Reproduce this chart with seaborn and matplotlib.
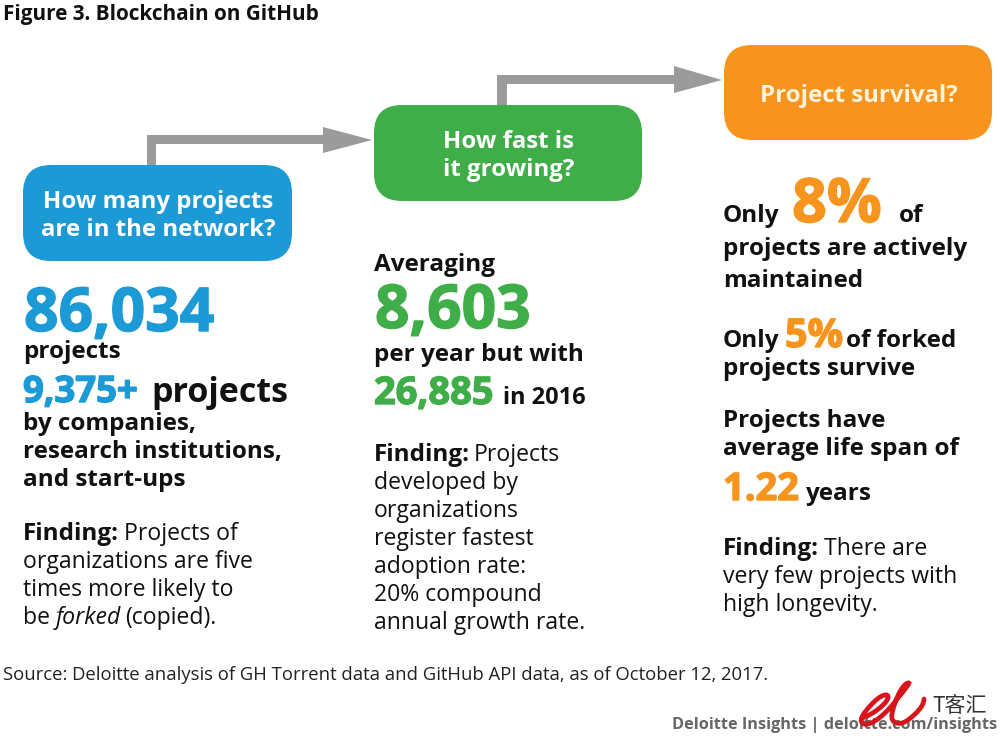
import matplotlib
matplotlib.use("Agg")
import matplotlib.pyplot as plt
from matplotlib.patches import FancyBboxPatch, Polygon, PathPatch
from matplotlib.path import Path
import matplotlib.patheffects as pe
import seaborn as sns

sns.set_theme(style="white")
plt.rcParams['font.family'] = ['Open Sans', 'DejaVu Sans']

BLUE, GREEN, ORANGE, INK = "#1b9ad6", "#3fae49", "#f7941d", "#111111"
GREY = "#9b9b9b"
B, N = 24.2, 23

title = "Figure 3. Blockchain on GitHub"
source = "Source: Deloitte analysis of GH Torrent data and GitHub API data, as of October 12, 2017."
credit = "Deloitte Insights | deloitte.com/insights"
questions = ["How many projects\nare in the network?", "How fast is\nit growing?", "Project survival?"]
q_colors = [BLUE, GREEN, ORANGE]
boxes = [(23, 165, 269, 96), (374, 105, 268, 96), (724, 45, 268, 95)]

# x, baseline y, string, size px, colour, weight, style
texts = [
    (24, 331, "86,034", 60.5, BLUE, "bold", "normal"),
    (23, 358, "projects", B, INK, "bold", "normal"),
    (23, 402, "9,375+", 36.5, BLUE, "bold", "normal"),
    (151, 402, "projects", 34, INK, "bold", "normal"),
    (23, 430, "by companies,", B, INK, "bold", "normal"),
    (23, 458, "research institutions,", B, INK, "bold", "normal"),
    (23, 486, "and start-ups", B, INK, "bold", "normal"),
    (23, 540, "Finding:", B, INK, "bold", "normal"),
    (124, 540, "Projects of", N, INK, "normal", "normal"),
    (23, 568, "organizations are five", N, INK, "normal", "normal"),
    (23, 596, "times more likely to", N, INK, "normal", "normal"),
    (23, 624, "be", N, INK, "normal", "normal"),
    (56, 624, "forked", N, INK, "normal", "italic"),
    (125, 624, "(copied).", N, INK, "normal", "normal"),
    (374, 271, "Averaging", B, INK, "bold", "normal"),
    (375, 328, "8,603", 60.5, GREEN, "bold", "normal"),
    (374, 361, "per year but with", B, INK, "bold", "normal"),
    (374, 404, "26,885", 38, GREEN, "bold", "normal"),
    (503, 404, "in 2016", 23.5, INK, "bold", "normal"),
    (374, 461, "Finding:", B, INK, "bold", "normal"),
    (474, 461, "Projects", N, INK, "normal", "normal"),
    (374, 489, "developed by", N, INK, "normal", "normal"),
    (374, 517, "organizations", N, INK, "normal", "normal"),
    (374, 545, "register fastest", N, INK, "normal", "normal"),
    (374, 573, "adoption rate:", N, INK, "normal", "normal"),
    (374, 601, "20% compound", N, INK, "normal", "normal"),
    (374, 629, "annual growth rate.", N, INK, "normal", "normal"),
    (723, 222, "Only", B, INK, "bold", "normal"),
    (792, 222, "8%", 61, ORANGE, "bold", "normal"),
    (899, 222, "of", B, INK, "bold", "normal"),
    (723, 255, "projects are actively", B, INK, "bold", "normal"),
    (723, 287, "maintained", B, INK, "bold", "normal"),
    (723, 347, "Only", B, INK, "bold", "normal"),
    (785, 347, "5%", 39.5, ORANGE, "bold", "normal"),
    (846, 347, "of forked", B, INK, "bold", "normal"),
    (723, 375, "projects survive", B, INK, "bold", "normal"),
    (723, 427, "Projects have", B, INK, "bold", "normal"),
    (723, 455, "average life span of", B, INK, "bold", "normal"),
    (723, 500, "1.22", 38, ORANGE, "bold", "normal"),
    (806, 500, "years", B, INK, "bold", "normal"),
    (723, 555, "Finding:", B, INK, "bold", "normal"),
    (824, 555, "There are", N, INK, "normal", "normal"),
    (723, 583, "very few projects with", N, INK, "normal", "normal"),
    (723, 611, "high longevity.", N, INK, "normal", "normal"),
]

PX = 72 / 100  # px to pt at dpi 100
fig = plt.figure(figsize=(10, 7.36), dpi=100, facecolor="white")
ax = fig.add_axes([0, 0, 1, 1])
ax.set_xlim(0, 1000)
ax.set_ylim(736, 0)
ax.axis("off")

# connector arrows
for pts in ([(147, 165), (147, 135), (323, 135), (323, 127), (372, 140), (323, 153), (323, 144), (156, 144), (156, 165)],
            [(497, 105), (497, 75), (674, 75), (674, 66), (722, 80), (674, 93), (674, 84), (507, 84), (507, 105)]):
    ax.add_patch(Polygon(pts, closed=True, fc=GREY, ec="none", zorder=1))

for (x, y, w, h), q, c in zip(boxes, questions, q_colors):
    r = 28
    ax.add_patch(FancyBboxPatch((x + r, y + r), w - 2 * r, h - 2 * r,
                                boxstyle=f"round,pad={r},rounding_size={r}",
                                fc=c, ec="none", zorder=2))
    ax.text(x + w / 2 + 0.5, y + h / 2 + 3, q, color="#fdf3dc" if c == ORANGE else "white",
            fontsize=24 * PX, fontweight="bold", ha="center", va="center",
            linespacing=1.24, zorder=3)

for x, y, s, size, c, w, st in texts:
    t = ax.text(x, y, s, fontsize=size * PX, color=c, fontweight=w, fontstyle=st,
                ha="left", va="baseline")
    if size > 30 and c != INK:
        t.set_path_effects([pe.withStroke(linewidth=1.0, foreground=c)])

ax.text(3, 20, title, fontsize=20.8 * PX, fontweight="bold", color="#111111", va="baseline")
ax.text(3, 680, source, fontsize=18.5 * PX, color="#222222", va="baseline")
ax.text(997, 729, credit, fontsize=16.2 * PX, fontweight="bold", color="#666666", ha="right", va="baseline")

# watermark over the credit line
logo = [(862, 718), (870, 716), (886, 705), (888, 698), (889, 692), (880, 695), (872, 704),
        (862, 714), (858, 722), (864, 724), (872, 726), (886, 714), (898, 698),
        (906, 688), (911, 682), (908, 683), (902, 684), (894, 702), (892, 714),
        (890, 724), (900, 726), (908, 720), (916, 714), (924, 706), (924, 699)]
codes = [Path.MOVETO] + [Path.CURVE4] * (len(logo) - 1)
ax.add_patch(PathPatch(Path(logo, codes), fc="none", ec="#d8141c", lw=3.4, capstyle="round", zorder=5))
ax.text(932, 712, "T客汇", fontsize=21 * PX, family=["Noto Sans CJK SC", "DejaVu Sans"],
        color="#333333", va="baseline", zorder=5)

fig.savefig("out.png", dpi=100)
